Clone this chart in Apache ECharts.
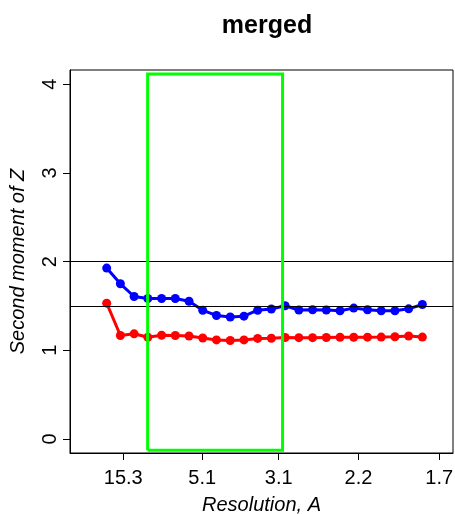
<!DOCTYPE html>
<html>
<head>
<meta charset="utf-8">
<script src="https://cdn.jsdelivr.net/npm/echarts@6/dist/echarts.min.js"></script>
<style>
html,body{margin:0;padding:0;background:#fff;}
#main{width:455px;height:514px;}
</style>
</head>
<body>
<div id="main"></div>
<script>
// inverse resolution (1/d, 1/A) of each bin
var invRes = [0.0379, 0.0606, 0.0833, 0.1060, 0.1288, 0.1515, 0.1742, 0.1969,
              0.2196, 0.2424, 0.2651, 0.2878, 0.3105, 0.3332, 0.3560, 0.3787,
              0.4014, 0.4241, 0.4468, 0.4696, 0.4923, 0.5150, 0.5377, 0.5604];
var blueZ = [1.927, 1.750, 1.607, 1.584, 1.584, 1.584, 1.553, 1.451,
             1.393, 1.376, 1.385, 1.452, 1.466, 1.502, 1.454, 1.458,
             1.454, 1.446, 1.476, 1.458, 1.446, 1.446, 1.468, 1.517];
var redZ = [1.532, 1.167, 1.186, 1.147, 1.170, 1.167, 1.162, 1.139,
            1.117, 1.111, 1.117, 1.134, 1.136, 1.145, 1.143, 1.143,
            1.145, 1.147, 1.147, 1.148, 1.149, 1.153, 1.162, 1.149];
var xTickRes = [15.3, 5.1, 3.1, 2.2, 1.7];
var yTicks = [0, 1, 2, 3, 4];
var refLines = [2, 1.5];
var greenX = [0.1057, 0.329];
var greenY = [-0.128, 4.116];

var font = '"Liberation Sans", Arial, Helvetica, sans-serif';
function pairs(xs, ys){ return xs.map(function(x,i){ return [x, ys[i]]; }); }
var rect = [[greenX[0],greenY[0]],[greenX[0],greenY[1]],[greenX[1],greenY[1]],[greenX[1],greenY[0]],[greenX[0],greenY[0]]];

var chart = echarts.init(document.getElementById('main'), null, {renderer:'canvas'});
chart.setOption({
  animation: false,
  backgroundColor: '#fff',
  title: {
    text: 'merged', left: 262, top: 9, textAlign: 'center',
    textStyle: {fontFamily: font, fontWeight: 'bold', fontSize: 25, color: '#000'}
  },
  grid: {left: 70, top: 70, right: 2, bottom: 61, show: true, borderColor: '#000', borderWidth: 1,
         backgroundColor: 'transparent', containLabel: false, outerBoundsMode: 'none'},
  xAxis: {
    type: 'value', min: -0.0228, max: 0.6111,
    name: 'Resolution, A', nameLocation: 'middle', nameGap: 42,
    nameTextStyle: {fontFamily: font, fontStyle: 'italic', fontSize: 20, color: '#000'},
    axisLine: {show: true, onZero: false, lineStyle: {color: '#000', width: 1}},
    axisTick: {show: true, length: 7, lineStyle: {color: '#000', width: 1},
               customValues: xTickRes.map(function(r){ return 1/r; })},
    axisLabel: {fontFamily: font, fontSize: 20, color: '#000', margin: 15,
                customValues: xTickRes.map(function(r){ return 1/r; }),
                formatter: function(v){ return (1/v).toFixed(1); }},
    splitLine: {show: false}
  },
  yAxis: {
    type: 'value', min: -0.158, max: 4.161,
    name: 'Second moment of Z', nameLocation: 'middle', nameGap: 42,
    nameTextStyle: {fontFamily: font, fontStyle: 'italic', fontSize: 20, color: '#000'},
    axisLine: {show: true, onZero: false, lineStyle: {color: '#000', width: 1}},
    axisTick: {show: true, length: 7, lineStyle: {color: '#000', width: 1}, customValues: yTicks},
    axisLabel: {fontFamily: font, fontSize: 20, color: '#000', margin: 10, rotate: 90, customValues: yTicks},
    splitLine: {show: false}
  },
  series: [
    {type: 'line', data: pairs(invRes, blueZ), color: '#0000ff', symbol: 'circle', symbolSize: 9,
     lineStyle: {width: 3, color: '#0000ff'}, itemStyle: {color: '#0000ff'}, z: 3,
     markLine: {silent: true, symbol: 'none', label: {show: false},
                lineStyle: {color: '#000', width: 1, type: 'solid'},
                data: refLines.map(function(v){ return {yAxis: v}; })}},
    {type: 'line', data: pairs(invRes, redZ), color: '#ff0000', symbol: 'circle', symbolSize: 9,
     lineStyle: {width: 3, color: '#ff0000'}, itemStyle: {color: '#ff0000'}, z: 3},
    {type: 'line', data: rect, symbol: 'none', lineStyle: {width: 3, color: '#00ff00', join: 'miter'}, z: 5, silent: true}
  ]
});
</script>
</body>
</html>
